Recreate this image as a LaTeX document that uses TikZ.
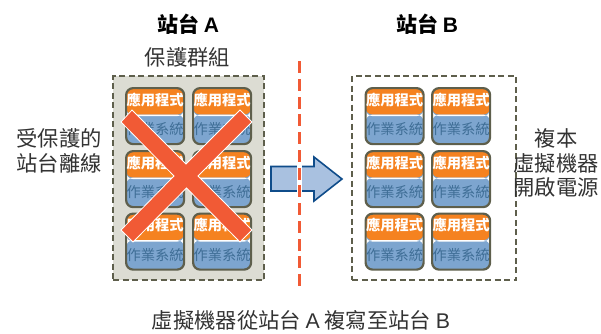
\documentclass[tikz,border=0pt]{standalone}
\usepackage{fontspec}
\setmainfont{Liberation Sans}
\newfontfamily\cjk{Noto Sans CJK TC}
\usetikzlibrary{shapes.arrows}
\definecolor{orangeapp}{HTML}{F58220}
\definecolor{blueos}{HTML}{7DA5CF}
\definecolor{bluetxt}{HTML}{3F6E96}
\definecolor{cardedge}{HTML}{5E5F4C}
\definecolor{groupfill}{HTML}{DCDCD3}
\definecolor{groupedge}{HTML}{5E5F4C}
\definecolor{redx}{HTML}{F15A35}
\definecolor{arrowfill}{HTML}{A9C1E0}
\definecolor{arrowedge}{HTML}{0F4C8A}
\tikzset{
  x=1pt,y=-1pt,
  label text/.style={font=\fontsize{21.3}{24.5}\selectfont\cjk,align=center,text=black!80,inner sep=0},
  title text/.style={font=\fontsize{21}{24}\selectfont\cjk\bfseries,text=black,inner sep=0},
  group box/.style={draw=groupedge,line width=2.4pt,dash pattern=on 6pt off 3.5pt},
  card/.style={draw=cardedge,line width=2.2pt,rounded corners=7pt,minimum width=58pt,minimum height=56pt,inner sep=0,anchor=north west},
  app text/.style={font=\fontsize{14.3}{14}\selectfont\cjk\bfseries,text=white,inner sep=0},
  os text/.style={font=\fontsize{14.3}{14}\selectfont\cjk,text=bluetxt,inner sep=0},
  cross arm/.style={draw=white,line width=0.8pt,fill=redx,line join=miter},
}
\newcommand{\vmcard}[3]{%
  \node[card,path picture={
    \fill[blueos] (path picture bounding box.south west) rectangle (path picture bounding box.north east);
    \fill[orangeapp] (path picture bounding box.north west) rectangle ([yshift=-26.5pt]path picture bounding box.north east);
    \fill[white] ([yshift=-26.5pt]path picture bounding box.north west) rectangle ([yshift=-28pt]path picture bounding box.north east);
  }] (#3) at (#1,#2) {};
  \node[app text] (#3app) at ([yshift=-12.5pt]#3.north) {應用程式};
  \node[os text] (#3os) at ([yshift=16pt]#3.south) {作業系統};
}
\begin{document}
\begin{tikzpicture}
\useasboundingbox (0,0) rectangle (601,333);
% titles
\node[title text] (siteA) at (188,24) {站台 {\fontspec{Liberation Sans Bold}A}};
\node[title text] (siteB) at (427,24) {站台 {\fontspec{Liberation Sans Bold}B}};
\node[label text] (pg) at (187.5,57) {保護群組};
% groups
\node[group box,fill=groupfill,minimum width=151pt,minimum height=204pt,anchor=north west,inner sep=0] (groupA) at (112,75) {};
\node[group box,minimum width=164pt,minimum height=204pt,anchor=north west,inner sep=0] (groupB) at (351,75) {};
% cards
\vmcard{125}{87}{a1}
\vmcard{192}{87}{a2}
\vmcard{125}{150}{a3}
\vmcard{192}{150}{a4}
\vmcard{125}{212.5}{a5}
\vmcard{192}{212.5}{a6}
\vmcard{364.5}{87}{b1}
\vmcard{431}{87}{b2}
\vmcard{364.5}{150}{b3}
\vmcard{431}{150}{b4}
\vmcard{364.5}{212.5}{b5}
\vmcard{431}{212.5}{b6}
% red X
\draw[cross arm] (132,110) -- (186,164) -- (240,110) -- (252,122) -- (198,176) -- (252,230) -- (240,242) -- (186.5,188) -- (133,242) -- (121,230) -- (174,176) -- (121,122) -- cycle;
% arrow
\coordinate (arrowEnd) at (342,179);
\draw[draw=arrowedge,fill=arrowfill,line width=1.6pt,line join=miter]
  (271,166.5) -- (314,166.5) -- (314,157) -- (arrowEnd) -- (314,201) -- (314,191) -- (271,191) -- cycle;
% divider
\fill[white] (297,162) rectangle (302,204);
\foreach \n in {0,...,12} {
  \pgfmathsetmacro{\ya}{61+17.75*\n}
  \pgfmathsetmacro{\yb}{\ya+12}
  \fill[fill=redx] (298.4,\ya) rectangle (300.6,\yb);
}
% side labels
\node[label text] (offline) at (59,151) {受保護的\\站台離線};
\node[label text] (poweron) at (556,163) {複本\\虛擬機器\\開啟電源};
\node[label text] (caption) at (301,320) {虛擬機器從站台 {\fontspec{Liberation Sans}A} 複寫至站台 {\fontspec{Liberation Sans}B}};
\end{tikzpicture}
\end{document}
